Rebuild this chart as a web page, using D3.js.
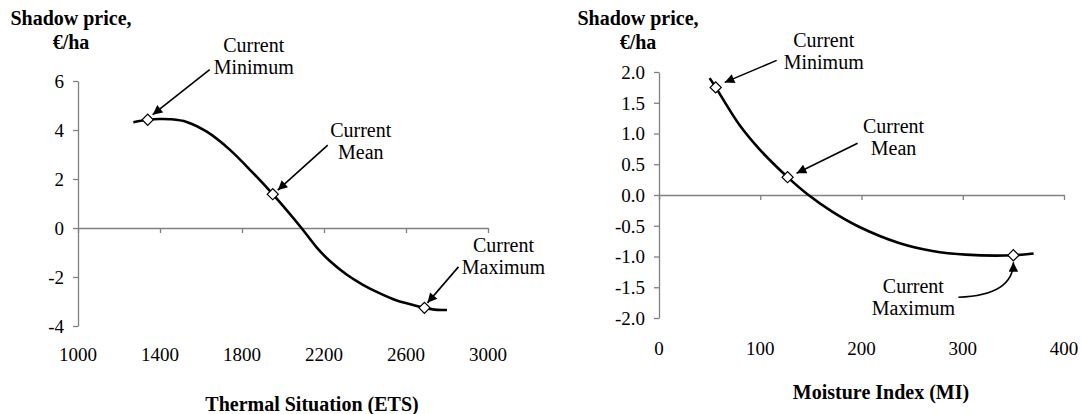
<!DOCTYPE html>
<html>
<head>
<meta charset="utf-8">
<script src="https://cdn.jsdelivr.net/npm/d3@7"></script>
<style>
body { margin: 0; background: #fff; }
</style>
</head>
<body>
<script>
var wd = 1081
var ht = 414
var serif = "'Liberation Serif', 'Times New Roman', Times, serif"

// left panel: thermal situation (ETS)
var etsX = [1270, 1340, 1400, 1450, 1530, 1630, 1740, 1850, 1950, 2090, 2165, 2230, 2310, 2390, 2470, 2555, 2635, 2690, 2740, 2800]
var etsY = [4.32, 4.42, 4.45, 4.44, 4.33, 3.92, 3.2, 2.28, 1.38, 0, -0.8, -1.36, -1.9, -2.32, -2.66, -2.96, -3.14, -3.26, -3.33, -3.35]
var etsMarkX = [1340, 1950, 2690]
var etsMarkY = [4.42, 1.38, -3.26]
var etsTicksX = [1000, 1400, 1800, 2200, 2600, 3000]
var etsTicksY = [-4, -2, 0, 2, 4, 6]

// right panel: moisture index (MI)
var miX = [50, 56, 79, 100, 127, 146, 171, 198, 237, 270, 303, 350, 370]
var miY = [1.9, 1.75, 1.15, 0.73, 0.29, 0.02, -0.27, -0.52, -0.78, -0.91, -0.97, -0.98, -0.95]
var miMarkX = [56, 127, 350]
var miMarkY = [1.75, 0.29, -0.98]
var miTicksX = [0, 100, 200, 300, 400]
var miTicksY = [-2, -1.5, -1, -0.5, 0, 0.5, 1, 1.5, 2]

var yTitle = ["Shadow price,", "€/ha"]
var markLabels = [["Current", "Minimum"], ["Current", "Mean"], ["Current", "Maximum"]]

var svg = d3.select("body").append("svg")
  .attr("width", wd)
  .attr("height", ht)

svg.append("defs").append("marker")
  .attr("id", "head")
  .attr("viewBox", "0 0 10 10")
  .attr("refX", 10).attr("refY", 5)
  .attr("markerWidth", 6.5).attr("markerHeight", 6)
  .attr("markerUnits", "strokeWidth")
  .attr("orient", "auto")
  .append("path")
  .attr("d", "M0,0L10,5L0,10z")
  .attr("fill", "#000")

var curve = d3.line().curve(d3.curveCatmullRom.alpha(0.5))

function panel(o) {
  var g = svg.append("g")
  var x = d3.scaleLinear().domain(o.xDom).range(o.xRange)
  var y = d3.scaleLinear().domain(o.yDom).range(o.yRange)

  // y axis
  var ya = g.append("g")
    .attr("transform", "translate(" + o.xRange[0] + ",0)")
    .call(d3.axisLeft(y).tickValues(o.ticksY).tickSize(5).tickSizeOuter(0).tickPadding(9)
      .tickFormat(o.fmt))
  ya.attr("font-family", serif).attr("font-size", 19)
  ya.selectAll("text").attr("fill", "#000").attr("dy", "0.34em")

  // x axis on the zero line, labels below the plot
  g.append("g")
    .attr("transform", "translate(0," + y(0) + ")")
    .call(d3.axisBottom(x).tickValues(o.ticksX).tickSize(5).tickSizeOuter(0).tickFormat(""))

  g.selectAll("path.domain, .tick line").attr("stroke", "#808080").attr("stroke-width", 1.3)

  g.selectAll(".xlab").data(o.ticksX).enter().append("text")
    .attr("x", function(d) { return x(d) })
    .attr("y", o.tickBase)
    .attr("text-anchor", "middle")
    .style("font-family", serif)
    .style("font-size", "19px")
    .text(function(d) { return d })

  g.append("text")
    .attr("x", o.titleX).attr("y", o.titleBase)
    .attr("text-anchor", "middle")
    .style("font-family", serif)
    .style("font-size", "20px").style("font-weight", "bold")
    .text(o.title)

  yTitle.forEach(function(t, i) {
    g.append("text")
      .attr("x", o.yTitleX).attr("y", o.yTitleBase + i * 24)
      .attr("text-anchor", "middle")
      .style("font-family", serif)
      .style("font-size", "20px").style("font-weight", "bold")
      .text(t)
  })

  var pts = o.xs.map(function(d, i) { return [x(d), y(o.ys[i])] })
  g.append("path")
    .attr("d", curve(pts))
    .attr("fill", "none")
    .attr("stroke", "#000")
    .attr("stroke-width", 2.6)

  var marks = o.mx.map(function(d, i) { return [x(d), y(o.my[i])] })
  g.selectAll(".mk").data(marks).enter().append("path")
    .attr("d", d3.symbol().type(d3.symbolSquare).size(62))
    .attr("transform", function(d) { return "translate(" + d[0] + "," + d[1] + ") rotate(45)" })
    .attr("fill", "#fff")
    .attr("stroke", "#000")
    .attr("stroke-width", 1.2)

  // annotations, offsets relative to each marker
  o.notes.forEach(function(n, i) {
    var m = marks[i]
    var tip = [m[0] + n.tip[0], m[1] + n.tip[1]]
    var st = [m[0] + n.start[0], m[1] + n.start[1]]
    var d = n.ctrl
      ? "M" + st + "Q" + [m[0] + n.ctrl[0], m[1] + n.ctrl[1]] + " " + tip
      : "M" + st + "L" + tip
    g.append("path")
      .attr("d", d)
      .attr("fill", "none")
      .attr("stroke", "#000")
      .attr("stroke-width", 1.6)
      .attr("marker-end", "url(#head)")
    markLabels[i].forEach(function(t, j) {
      g.append("text")
        .attr("x", m[0] + n.label[0])
        .attr("y", m[1] + n.label[1] + j * 22)
        .attr("text-anchor", "middle")
        .style("font-family", serif)
        .style("font-size", "20px")
        .text(t)
    })
  })
}

panel({
  xs: etsX, ys: etsY, mx: etsMarkX, my: etsMarkY,
  ticksX: etsTicksX, ticksY: etsTicksY,
  xDom: [1000, 3000], xRange: [78, 488],
  yDom: [-4, 6], yRange: [326, 81],
  fmt: function(d) { return String(d) },
  tickBase: 361, title: "Thermal Situation (ETS)", titleX: 312, titleBase: 411,
  yTitleX: 71, yTitleBase: 25,
  notes: [
    { label: [106, -68], start: [62, -50], tip: [5, -5] },
    { label: [88, -57], start: [55, -49], tip: [5, -4] },
    { label: [79, -56], start: [34, -41], tip: [3, -5] }
  ]
})

panel({
  xs: miX, ys: miY, mx: miMarkX, my: miMarkY,
  ticksX: miTicksX, ticksY: miTicksY,
  xDom: [0, 400], xRange: [659, 1064],
  yDom: [-2, 2], yRange: [318, 72],
  fmt: function(d) { return d.toFixed(1) },
  tickBase: 355, title: "Moisture Index (MI)", titleX: 881, titleBase: 399,
  yTitleX: 638, yTitleBase: 25,
  notes: [
    { label: [108, -40], start: [61, -27], tip: [9, -5] },
    { label: [106, -44], start: [70, -34], tip: [9, -4] },
    { label: [-100, 38], start: [-55, 42], tip: [0, 7], ctrl: [0, 40] }
  ]
})
</script>
</body>
</html>
